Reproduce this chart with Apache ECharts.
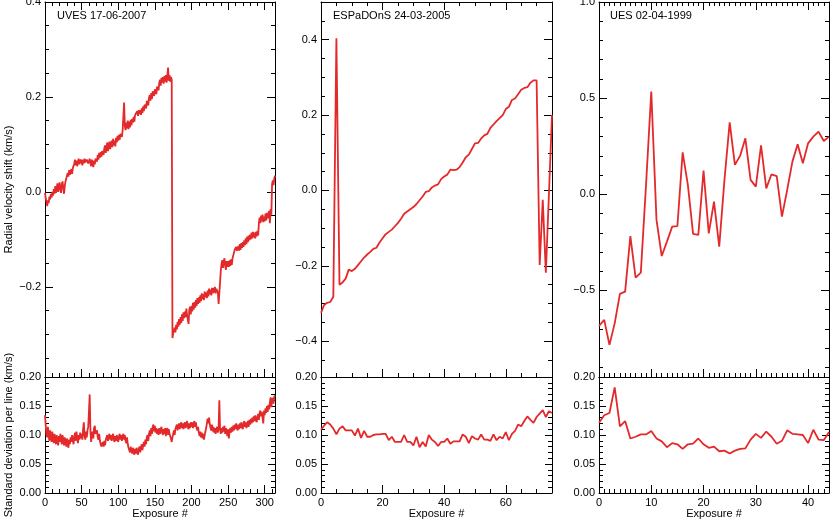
<!DOCTYPE html>
<html><head><meta charset="utf-8">
<script src="https://cdn.jsdelivr.net/npm/echarts@6/dist/echarts.min.js"></script>
<style>html,body{margin:0;padding:0;background:#fff}#c{width:830px;height:522px}</style>
</head><body><div id="c"></div>
<script>
// ---------- DATA ----------
const panelTitles = ['UVES 17-06-2007', 'ESPaDOnS 24-03-2005', 'UES 02-04-1999'];
const yNameTop = 'Radial velocity shift (km/s)';
const yNameBottom = 'Standard deviation per line (km/s)';
const xName = 'Exposure #';

const xTicksUVES = [0, 50, 100, 150, 200, 250, 300];
const xTicksESP = [0, 20, 40, 60];
const xTicksUES = [0, 10, 20, 30, 40];
const yTicksUVES = [-0.2, 0, 0.2, 0.4];
const yTicksESP = [-0.4, -0.2, 0, 0.2, 0.4];
const yTicksUES = [-0.5, 0, 0.5, 1.0];
const sdTicks = [0, 0.05, 0.10, 0.15, 0.20];

const uvesRV = [
-0.002,-0.014,-0.020,-0.030,-0.018,-0.024,-0.010,-0.016,-0.004,-0.012,
0.000,-0.008,0.006,-0.004,0.012,-0.002,0.008,0.018,0.000,0.012,
0.020,0.004,-0.002,0.016,0.022,0.008,-0.004,0.012,0.022,0.028,
0.024,0.040,0.032,0.046,0.036,0.042,0.048,0.038,0.050,0.046,
0.060,0.068,0.056,0.066,0.054,0.064,0.070,0.058,0.062,0.068,
0.066,0.056,0.068,0.060,0.070,0.062,0.058,0.068,0.072,0.060,
0.064,0.070,0.060,0.054,0.068,0.060,0.052,0.066,0.058,0.070,
0.074,0.064,0.078,0.068,0.082,0.072,0.084,0.074,0.086,0.090,
0.078,0.092,0.098,0.082,0.094,0.104,0.086,0.098,0.106,0.090,
0.100,0.108,0.094,0.112,0.098,0.108,0.096,0.114,0.104,0.118,
0.108,0.120,0.110,0.122,0.126,0.116,0.130,0.134,0.188,0.138,
0.130,0.146,0.134,0.150,0.132,0.148,0.136,0.152,0.140,0.154,
0.146,0.158,0.148,0.162,0.166,0.158,0.170,0.160,0.172,0.164,
0.172,0.162,0.176,0.166,0.180,0.170,0.184,0.188,0.176,0.192,
0.194,0.182,0.198,0.204,0.192,0.208,0.196,0.212,0.216,0.202,
0.216,0.220,0.206,0.222,0.226,0.214,0.230,0.236,0.224,0.240,
0.230,0.242,0.228,0.244,0.232,0.246,0.230,0.244,0.262,0.234,
0.246,0.232,0.242,0.236,-0.308,-0.298,-0.292,-0.286,-0.296,-0.280,
-0.290,-0.274,-0.284,-0.268,-0.280,-0.264,-0.276,-0.258,-0.272,-0.254,
-0.266,-0.252,-0.264,-0.246,-0.260,-0.264,-0.278,-0.248,-0.242,-0.258,
-0.240,-0.252,-0.234,-0.248,-0.232,-0.244,-0.228,-0.240,-0.224,-0.236,
-0.222,-0.234,-0.218,-0.230,-0.214,-0.226,-0.216,-0.228,-0.210,-0.222,
-0.212,-0.224,-0.208,-0.220,-0.204,-0.216,-0.206,-0.218,-0.202,-0.214,
-0.202,-0.212,-0.200,-0.214,-0.204,-0.200,-0.212,-0.236,-0.214,-0.190,
-0.166,-0.152,-0.144,-0.160,-0.146,-0.140,-0.156,-0.164,-0.146,-0.158,
-0.146,-0.158,-0.144,-0.156,-0.142,-0.154,-0.140,-0.134,-0.128,-0.122,
-0.126,-0.116,-0.124,-0.120,-0.114,-0.124,-0.110,-0.122,-0.108,-0.118,
-0.106,-0.116,-0.102,-0.112,-0.098,-0.110,-0.094,-0.106,-0.092,-0.102,
-0.090,-0.100,-0.086,-0.098,-0.084,-0.096,-0.086,-0.098,-0.084,-0.094,
-0.082,-0.092,-0.066,-0.054,-0.066,-0.050,-0.062,-0.048,-0.064,-0.052,
-0.062,-0.046,-0.060,-0.044,-0.056,-0.046,-0.040,-0.066,-0.036,-0.048,
0.016,0.024,0.014,0.028,0.034
];
const uvesSD = [
0.134,0.116,0.100,0.096,0.114,0.098,0.090,0.108,0.096,0.088,
0.106,0.094,0.086,0.102,0.092,0.084,0.100,0.090,0.082,0.098,
0.088,0.102,0.092,0.084,0.100,0.090,0.082,0.096,0.088,0.080,
0.094,0.086,0.078,0.092,0.084,0.096,0.088,0.100,0.090,0.084,
0.098,0.104,0.090,0.106,0.094,0.086,0.100,0.092,0.104,0.094,
0.102,0.092,0.110,0.122,0.098,0.092,0.106,0.096,0.108,0.114,
0.140,0.170,0.108,0.088,0.100,0.106,0.094,0.112,0.116,0.102,
0.100,0.108,0.096,0.092,0.102,0.090,0.084,0.080,0.078,0.088,
0.080,0.090,0.082,0.092,0.096,0.100,0.090,0.098,0.102,0.092,
0.100,0.090,0.098,0.102,0.092,0.088,0.098,0.090,0.100,0.092,
0.088,0.098,0.102,0.092,0.100,0.090,0.098,0.102,0.092,0.100,
0.090,0.086,0.096,0.084,0.078,0.074,0.070,0.080,0.072,0.068,
0.078,0.070,0.066,0.076,0.068,0.078,0.070,0.066,0.076,0.080,
0.070,0.078,0.084,0.074,0.082,0.088,0.080,0.092,0.084,0.096,
0.100,0.090,0.102,0.108,0.098,0.112,0.102,0.114,0.118,0.106,
0.116,0.104,0.112,0.102,0.110,0.100,0.112,0.102,0.110,0.114,
0.104,0.100,0.110,0.102,0.112,0.098,0.108,0.112,0.100,0.110,
0.102,0.098,0.094,0.088,0.096,0.102,0.108,0.100,0.110,0.114,
0.118,0.108,0.116,0.120,0.110,0.118,0.122,0.112,0.120,0.110,
0.118,0.122,0.112,0.120,0.124,0.114,0.110,0.120,0.112,0.122,
0.114,0.122,0.112,0.120,0.124,0.114,0.122,0.112,0.108,0.114,
0.104,0.098,0.106,0.096,0.104,0.094,0.102,0.092,0.100,0.106,
0.112,0.120,0.128,0.120,0.130,0.118,0.112,0.108,0.118,0.106,
0.114,0.104,0.112,0.102,0.110,0.114,0.104,0.112,0.160,0.110,
0.102,0.112,0.104,0.114,0.106,0.116,0.102,0.112,0.104,0.098,
0.110,0.094,0.106,0.112,0.104,0.114,0.106,0.116,0.108,0.118,
0.110,0.120,0.112,0.108,0.118,0.110,0.120,0.112,0.122,0.114,
0.110,0.120,0.124,0.114,0.122,0.112,0.120,0.124,0.114,0.126,
0.118,0.128,0.120,0.130,0.122,0.132,0.124,0.134,0.126,0.122,
0.132,0.136,0.126,0.138,0.142,0.132,0.140,0.130,0.120,0.142,
0.134,0.146,0.138,0.150,0.140,0.152,0.144,0.156,0.165,0.148,
0.160,0.164,0.154,0.166,0.168
];
const espRV = [
-0.325,-0.304,-0.298,-0.296,-0.282,0.404,-0.250,-0.244,-0.234,-0.210,
-0.214,-0.208,-0.198,-0.188,-0.178,-0.170,-0.163,-0.155,-0.152,-0.138,
-0.127,-0.116,-0.110,-0.104,-0.095,-0.086,-0.075,-0.062,-0.056,-0.050,
-0.044,-0.036,-0.026,-0.016,-0.004,-0.002,0.008,0.013,0.016,0.030,
0.037,0.042,0.055,0.054,0.055,0.062,0.074,0.088,0.095,0.110,
0.125,0.126,0.138,0.146,0.150,0.166,0.175,0.184,0.192,0.200,
0.216,0.222,0.240,0.244,0.255,0.267,0.272,0.274,0.286,0.292,
0.292,-0.198,-0.025,-0.218,-0.010,0.200
];
const espSD = [
0.109,0.116,0.122,0.118,0.111,0.101,0.111,0.115,0.108,0.108,
0.108,0.099,0.111,0.095,0.107,0.097,0.097,0.100,0.101,0.101,
0.102,0.102,0.091,0.097,0.088,0.088,0.088,0.100,0.088,0.088,
0.082,0.097,0.079,0.088,0.080,0.100,0.092,0.088,0.081,0.088,
0.088,0.094,0.085,0.089,0.089,0.089,0.101,0.097,0.086,0.098,
0.094,0.092,0.101,0.092,0.092,0.090,0.101,0.091,0.097,0.094,
0.105,0.091,0.102,0.107,0.118,0.115,0.124,0.132,0.126,0.121,
0.131,0.137,0.143,0.131,0.141,0.138
];
const uesRV = [
-0.685,-0.653,-0.783,-0.671,-0.518,-0.506,-0.217,-0.433,-0.407,0.050,
0.534,-0.133,-0.321,-0.246,-0.168,-0.165,0.218,0.049,-0.206,-0.211,
0.123,-0.203,-0.038,-0.272,0.075,0.374,0.153,0.201,0.291,0.075,
0.040,0.255,0.031,0.104,0.095,-0.116,0.023,0.170,0.260,0.161,
0.265,0.300,0.326,0.277,0.300
];
const uesSD = [
0.121,0.134,0.138,0.182,0.115,0.124,0.094,0.097,0.101,0.101,
0.107,0.094,0.089,0.079,0.086,0.084,0.076,0.084,0.085,0.094,
0.084,0.078,0.080,0.072,0.073,0.068,0.073,0.076,0.077,0.092,
0.102,0.095,0.106,0.097,0.085,0.090,0.108,0.102,0.101,0.100,
0.086,0.109,0.092,0.091,0.105
];

// ---------- CHART ----------
const FONT = '"Liberation Sans", Arial, Helvetica, sans-serif';
const BLACK = '#000';
const RED = '#e4292b';
const chart = echarts.init(document.getElementById('c'), null, {renderer: 'canvas'});

const fmt = dec => v => Number(v).toFixed(dec).replace('-', '\u2212');

const grids = [];
const xAxis = [], yAxis = [], series = [];
const ls = {color: BLACK, width: 1};

function minorsOf(min, max, step) {
  const out = [];
  for (let k = Math.ceil((min - 1e-9) / step); k * step <= max + 1e-9; k++) out.push(+(k * step).toFixed(6));
  return out;
}
function addAxis(list, g, pos, min, max, majors, minorStep, majLen, minLen, labelFmt, extra) {
  const main = {
    type: 'value', gridIndex: g, position: pos, min, max,
    splitLine: {show: false},
    axisLine: {show: true, onZero: false, lineStyle: ls},
    axisTick: {show: majLen > 0, inside: true, length: majLen, customValues: majors, lineStyle: ls},
    axisLabel: labelFmt ? {show: true, customValues: majors, formatter: labelFmt, margin: 4, color: BLACK, fontSize: 11, fontFamily: FONT} : {show: false}
  };
  Object.assign(main, extra || {});
  list.push(main);
  const idx = list.length - 1;
  if (minLen > 0) {
    list.push({
      type: 'value', gridIndex: g, position: pos, min, max,
      splitLine: {show: false},
      axisLine: {show: false, onZero: false},
      axisTick: {show: true, inside: true, length: minLen, customValues: minorsOf(min, max, minorStep), lineStyle: ls},
      axisLabel: {show: false}
    });
  }
  return idx;
}

const cols = [
  {left: 45, width: 230, xmax: 314, xt: xTicksUVES, xminor: 10, ymin: -0.39, ymax: 0.4, yt: yTicksUVES, yminor: 0.05, rv: uvesRV, sd: uvesSD},
  {left: 321, width: 231, xmax: 75, xt: xTicksESP, xminor: 5, ymin: -0.495, ymax: 0.5, yt: yTicksESP, yminor: 0.05, rv: espRV, sd: espSD},
  {left: 599, width: 230, xmax: 44, xt: xTicksUES, xminor: 1, ymin: -0.95, ymax: 1.0, yt: yTicksUES, yminor: 0.1, rv: uesRV, sd: uesSD}
];
const nameStyle = {fontSize: 11, color: BLACK, fontFamily: FONT};

cols.forEach((c, k) => {
  // top panel
  const gt = grids.length;
  grids.push({left: c.left, top: 2, width: c.width, height: 375, outerBoundsMode: 'none', containLabel: false});
  const xi = addAxis(xAxis, gt, 'bottom', 0, c.xmax, c.xt, c.xminor, 8, 4, null);
  addAxis(xAxis, gt, 'top', 0, c.xmax, c.xt, c.xminor, 8, 4, null);
  const yExtra = k === 0 ? {name: yNameTop, nameLocation: 'middle', nameGap: 31, nameTextStyle: nameStyle} : {};
  const yi = addAxis(yAxis, gt, 'left', c.ymin, c.ymax, c.yt, c.yminor, 8, 4, fmt(1), yExtra);
  addAxis(yAxis, gt, 'right', c.ymin, c.ymax, c.yt, c.yminor, 8, 4, null);
  series.push({type: 'line', xAxisIndex: xi, yAxisIndex: yi, data: c.rv.map((v, i) => [i, v]),
    symbol: 'none', showSymbol: false, silent: true, lineStyle: {color: RED, width: 1.8}});

  // bottom panel
  const gb = grids.length;
  grids.push({left: c.left, top: 377, width: c.width, height: 116, outerBoundsMode: 'none', containLabel: false});
  const xb = addAxis(xAxis, gb, 'bottom', 0, c.xmax, c.xt, c.xminor, 8, 4, fmt(0),
    {name: xName, nameLocation: 'middle', nameGap: 15, nameTextStyle: nameStyle});
  addAxis(xAxis, gb, 'top', 0, c.xmax, c.xt, c.xminor, 0, 0, null);
  const ybExtra = k === 0 ? {name: yNameBottom, nameLocation: 'middle', nameGap: 31, nameTextStyle: nameStyle} : {};
  const yb = addAxis(yAxis, gb, 'left', 0, 0.2, sdTicks, 0.01, 7, 4, fmt(2), ybExtra);
  addAxis(yAxis, gb, 'right', 0, 0.2, sdTicks, 0.01, 7, 4, null);
  series.push({type: 'line', xAxisIndex: xb, yAxisIndex: yb, data: c.sd.map((v, i) => [i, v]),
    symbol: 'none', showSymbol: false, silent: true, lineStyle: {color: RED, width: 1.8}});
});

const titleLeft = [57, 333, 610];
chart.setOption({
  animation: false,
  backgroundColor: '#fff',
  title: panelTitles.map((t, k) => ({text: t, left: titleLeft[k], top: 10, padding: 0,
    textStyle: {fontSize: 11, fontWeight: 'normal', color: BLACK, fontFamily: FONT}})),
  grid: grids,
  xAxis, yAxis, series
});
</script>
</body></html>
